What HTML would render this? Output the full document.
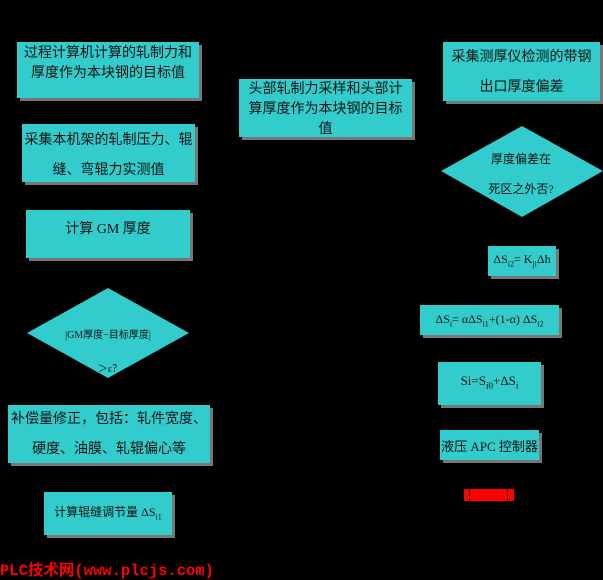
<!DOCTYPE html>
<html><head><meta charset="utf-8"><style>
body{margin:0;width:603px;height:576px;background:#000;position:relative;overflow:hidden;font-family:"Liberation Serif","Noto Sans CJK SC",serif;color:#111}
.b{position:absolute;background:#33cccc;box-shadow:3px 3px 0 #777;text-align:center;font-size:14px;box-sizing:border-box}
.t{position:absolute;font-size:13px;text-align:center;color:#111}
</style></head><body>
<div class="b" style="left:17px;top:42px;width:182px;height:56px;line-height:20px;padding-top:2px">过程计算机计算的轧制力和<br>厚度作为本块钢的目标值</div>
<div class="b" style="left:22px;top:124px;width:173px;height:58px;line-height:30px;padding-top:2px">采集本机架的轧制压力、辊<br>缝、弯辊力实测值</div>
<div class="b" style="left:26px;top:210px;width:164px;height:48px;padding-top:8px">计算 GM 厚度</div>
<svg style="position:absolute;left:0;top:0" width="603" height="576">
<polygon points="108,288 189,333 108,378 27,333" fill="#33cccc"/>
<polygon points="522,126 603,171 522,217 441,171" fill="#33cccc"/>
<rect x="464" y="489" width="50" height="12" fill="#ff0000"/>
<rect x="469" y="489" width="1" height="12" fill="#000"/>
<rect x="507" y="489" width="1" height="12" fill="#000"/>
</svg>
<div class="t" style="left:40px;top:326px;width:136px;font-size:10px">|GM厚度−目标厚度|</div>
<div class="t" style="left:60px;top:360px;width:100px;font-size:10px">＞ε？</div>
<div class="b" style="left:8px;top:405px;width:202px;height:58px;line-height:30px;padding-top:0">补偿量修正，包括：轧件宽度、<br>硬度、油膜、轧辊偏心等</div>
<div class="b" style="left:44px;top:492px;width:128px;height:43px;padding-top:11px;font-size:12px">计算辊缝调节量 ΔS<sub style="font-size:8px">i1</sub></div>
<div style="position:absolute;left:0;top:558px;color:#ff0000;font-weight:bold;font-size:15.5px;font-family:'Liberation Mono','Noto Sans CJK SC',monospace">PLC技术网(www.plcjs.com)</div>
<div class="b" style="left:239px;top:79px;width:173px;height:58px;line-height:20px;padding-top:1px;overflow:hidden">头部轧制力采样和头部计<br>算厚度作为本块钢的目标<br>值</div>
<div class="b" style="left:443px;top:42px;width:157px;height:59px;line-height:30px;padding-top:1px">采集测厚仪检测的带钢<br>出口厚度偏差</div>
<div class="t" style="left:461px;top:150px;width:120px;font-size:12px">厚度偏差在</div>
<div class="t" style="left:461px;top:180px;width:120px;font-size:12px">死区之外否?</div>
<div class="b" style="left:488px;top:246px;width:68px;height:30px;padding-top:6px;font-size:12px">ΔS<sub style="font-size:8px">i2</sub>= K<sub style="font-size:8px">ji</sub>Δh</div>
<div class="b" style="left:420px;top:305px;width:139px;height:30px;padding-top:7px;font-size:12px">ΔS<sub style="font-size:8px">i</sub>= αΔS<sub style="font-size:8px">i1</sub>+(1-α) ΔS<sub style="font-size:8px">i2</sub></div>
<div class="b" style="left:438px;top:362px;width:103px;height:43px;padding-top:11px;font-size:13px">Si=S<sub style="font-size:9px">i0</sub>+ΔS<sub style="font-size:9px">i</sub></div>
<div class="b" style="left:440px;top:430px;width:99px;height:30px;padding-top:6px;font-size:13px">液压 APC 控制器</div>
</body></html>
